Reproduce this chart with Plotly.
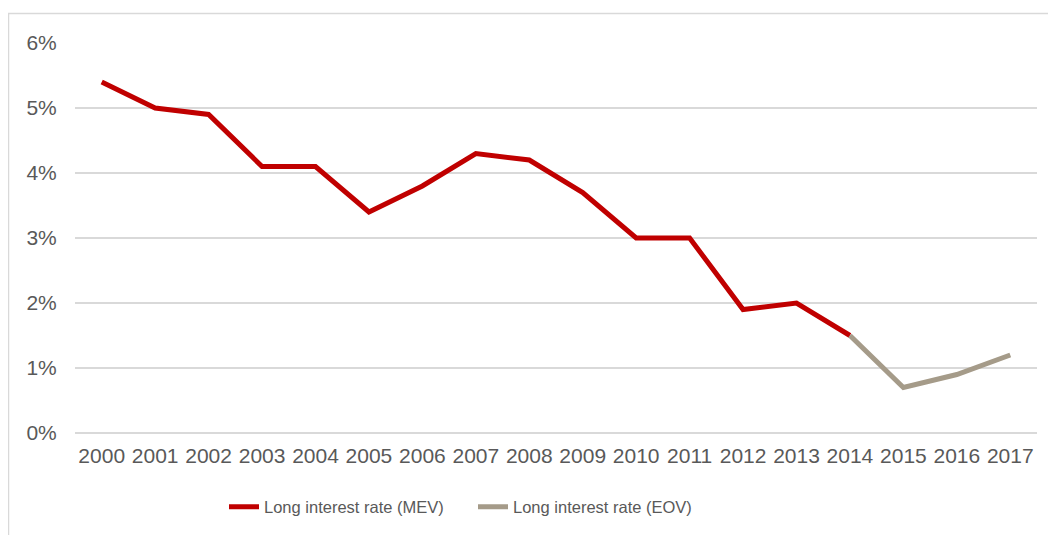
import plotly.graph_objects as go

years_mev = [str(y) for y in range(2000, 2015)]
mev = [5.4, 5.0, 4.9, 4.1, 4.1, 3.4, 3.8, 4.3, 4.2, 3.7, 3.0, 3.0, 1.9, 2.0, 1.5]
years_eov = ["2014", "2015", "2016", "2017"]
eov = [1.5, 0.7, 0.9, 1.2]
all_years = [str(y) for y in range(2000, 2018)]
y_ticks = [0, 1, 2, 3, 4, 5, 6]
y_labels = ["0%", "1%", "2%", "3%", "4%", "5%", "6%"]

fig = go.Figure()
fig.add_trace(go.Scatter(x=years_mev, y=mev, mode="lines", name="Long interest rate (MEV)",
                         line=dict(color="#C00000", width=5)))
fig.add_trace(go.Scatter(x=years_eov, y=eov, mode="lines", name="Long interest rate (EOV)",
                         line=dict(color="#A59B89", width=5)))

# page body has an 8px margin; positions below are in figure coordinates
L, R, T, B = 67, 27, 35, 110
W, H = 1056, 535
pw, ph = W - L - R, H - T - B

fig.update_layout(
    width=W, height=H,
    margin=dict(l=L, r=R, t=T, b=B),
    paper_bgcolor="white", plot_bgcolor="white",
    font=dict(family="Liberation Sans, Arial, sans-serif", size=22, color="#595959"),
    showlegend=True,
    legend=dict(orientation="h", x=(216 - L) / pw, xanchor="left", y=-0.19, yanchor="middle",
                font=dict(family="Liberation Sans, Arial, sans-serif", size=16.5, color="#595959"),
                itemwidth=30, traceorder="normal", entrywidth=204, entrywidthmode="pixels",
                bgcolor="rgba(0,0,0,0)"),
    xaxis=dict(type="category", categoryorder="array", categoryarray=all_years,
               range=[-0.5, 17.5], showgrid=False, showline=False, zeroline=False,
               ticks="outside", ticklen=4, tickcolor="rgba(0,0,0,0)",
               tickfont=dict(size=21, color="#595959")),
    yaxis=dict(range=[0, 6], tickvals=y_ticks, ticktext=y_labels,
               showgrid=True, gridcolor="#D9D9D9", gridwidth=1.5,
               zeroline=True, zerolinecolor="#D9D9D9", zerolinewidth=1.5,
               showline=False, ticks="outside", ticklen=13, tickcolor="rgba(0,0,0,0)",
               tickfont=dict(size=21, color="#595959")),
    shapes=[dict(type="rect", xref="paper", yref="paper",
                 x0=(0.5 - L) / pw, x1=(W + 10 - L) / pw,
                 y0=(T + ph - (H + 10)) / ph, y1=(T + ph - 5.5) / ph,
                 line=dict(color="#D9D9D9", width=1.5), fillcolor="rgba(0,0,0,0)", layer="below")],
)

fig.write_html("out.html")
